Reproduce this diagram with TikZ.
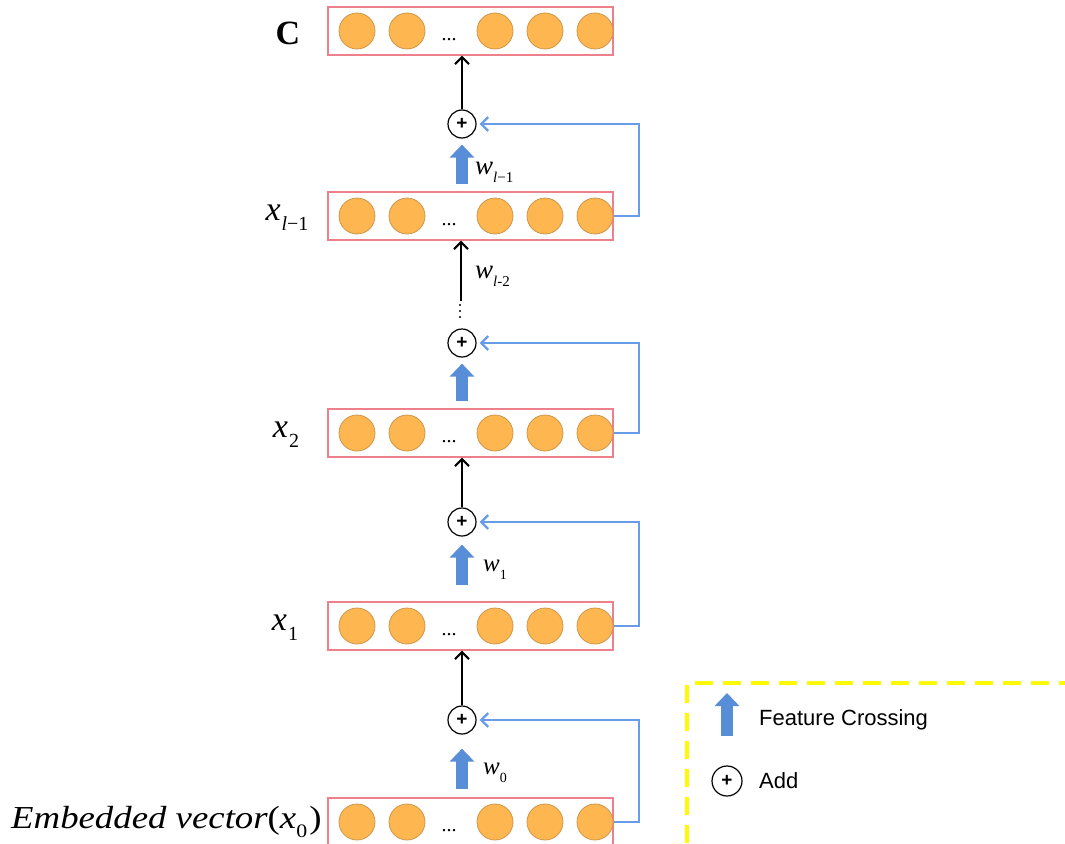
\documentclass[tikz,border=0pt]{standalone}
\usepackage{fontspec}
\setmainfont{Liberation Serif}
\setsansfont{Liberation Sans}
\usetikzlibrary{arrows.meta,calc}
\definecolor{boxred}{RGB}{238,128,140}
\definecolor{unitfill}{RGB}{253,182,80}
\definecolor{unitline}{RGB}{205,150,75}
\definecolor{featblue}{RGB}{88,142,215}
\definecolor{fbblue}{RGB}{104,156,232}
\definecolor{legyellow}{RGB}{255,250,0}
\newcommand\fsz[1]{\fontsize{#1}{#1}\selectfont}
\newcommand\layerrow[2]{%
  \node[layerbox] (#1) at (470.5,#2) {};
  \foreach \cx [count=\i] in {357,407,495,545,595}
    \node[unit] (#1c\i) at (\cx,#2) {};
  \node[ell] (#1d) at (449,#2+9) {...};
}
\begin{document}
\begin{tikzpicture}[x=1pt,y=-1pt,
  layerbox/.style={draw=boxred, line width=1.3pt, minimum width=285pt, minimum height=48pt, inner sep=0pt},
  unit/.style={circle, draw=unitline, line width=0.8pt, fill=unitfill, minimum size=36pt, inner sep=0pt},
  ell/.style={font=\fsz{20}, inner sep=0pt},
  addnode/.style={circle, draw=black, line width=1.2pt, fill=white, minimum size=28pt, inner sep=0pt, font=\sffamily\bfseries\fsz{19}},
  feat/.style={line width=12pt, draw=featblue, -{Triangle[width=24pt,length=13pt]}},
  up/.style={line width=2.1pt, draw=black, -{Straight Barb[length=7pt,width=14pt]}},
  fb/.style={line width=2.3pt, draw=fbblue, -{Straight Barb[length=7pt,width=14pt]}, shorten >=3pt},
  lab/.style={inner sep=0pt},
  wlab/.style={inner sep=0pt, anchor=west},
  leg/.style={inner sep=0pt, anchor=west, font=\sffamily\fsz{22}}
]
\useasboundingbox (0,0) rectangle (1065,843);

% layers
\layerrow{L4}{31}
\layerrow{L3}{216}
\layerrow{L2}{433}
\layerrow{L1}{626}
\layerrow{L0}{822}

% add nodes
\node[addnode] (P3) at (462,124) {+};
\node[addnode] (P2) at (462,343) {+};
\node[addnode] (P1) at (462,522) {+};
\node[addnode] (P0) at (462,720) {+};

% feature crossing block arrows
\draw[feat, shorten <=7pt, shorten >=6pt] (P3 |- L3.north) -- (P3.south);
\draw[feat, shorten <=7pt, shorten >=6pt] (P2 |- L2.north) -- (P2.south);
\draw[feat, shorten <=16pt, shorten >=8pt] (P1 |- L1.north) -- (P1.south);
\draw[feat, shorten <=8pt, shorten >=14pt] (P0 |- L0.north) -- (P0.south);

% black up arrows
\draw[up] (P3.north) -- (P3 |- L4.south);
\draw[up] (P1.north) -- (P1 |- L2.south);
\draw[up] (P0.north) -- (P0 |- L1.south);
\coordinate (dtop) at (461,301);
\draw[up] (dtop) -- (dtop |- L3.south);
\foreach \yy in {305,311,317} \fill (460,\yy) circle (1.1pt);

% feedback lines
\draw[fb] (L3.east) -- ++(25,0) |- (P3.east);
\draw[fb] (L2.east) -- ++(25,0) |- (P2.east);
\draw[fb] (L1.east) -- ++(25,0) |- (P1.east);
\draw[fb] (L0.east) -- ++(25,0) |- (P0.east);

% layer labels
\node[lab] (tC) at (288,33) {\fsz{34}\bfseries C};
\node[lab] (t3) at (287,218) {\fsz{34}\itshape x\kern1pt\raisebox{-0.3em}{\fsz{20}l\upshape−1}};
\node[lab] (t2) at (286,435) {\fsz{34}\itshape x\kern1pt\raisebox{-0.3em}{\fsz{20}\upshape 2}};
\node[lab] (t1) at (285,628) {\fsz{34}\itshape x\kern1pt\raisebox{-0.3em}{\fsz{20}\upshape 1}};
\node[lab, anchor=west] (t0) at (11,822) {\scalebox{1.15}[1]{\fsz{32}\itshape Embedded vector\upshape(\itshape x\raisebox{-0.3em}{\fsz{19}\upshape 0}\upshape\kern2pt)}};

% weight labels
\node[wlab] (w3) at (475,172) {\fsz{27}\itshape w\raisebox{-0.3em}{\fsz{15}l\upshape−1}};
\node[wlab] (w2) at (475,276) {\fsz{27}\itshape w\raisebox{-0.3em}{\fsz{15}l\upshape-2}};
\node[wlab] (w1) at (483,570) {\fsz{25}\itshape w\raisebox{-0.3em}{\fsz{14}\upshape 1}};
\node[wlab] (w0) at (483,773) {\fsz{25}\itshape w\raisebox{-0.3em}{\fsz{14}\upshape 0}};

% legend
\coordinate (lgA) at (687,843);
\coordinate (lgB) at (687,683);
\coordinate (lgC) at (1065,683);
\draw[legyellow, line width=3.2pt, dash pattern=on 18pt off 10pt] (lgA) -- (lgB) -- (lgC);
\coordinate (fa0) at (727,736);
\coordinate (fa1) at (727,693);
\draw[feat] (fa0) -- (fa1);
\node[leg] (lf) at (759,720) {Feature Crossing};
\node[addnode, minimum size=30pt] (lp) at (727,781) {+};
\node[leg] (la) at (759,781) {Add};
\end{tikzpicture}
\end{document}
